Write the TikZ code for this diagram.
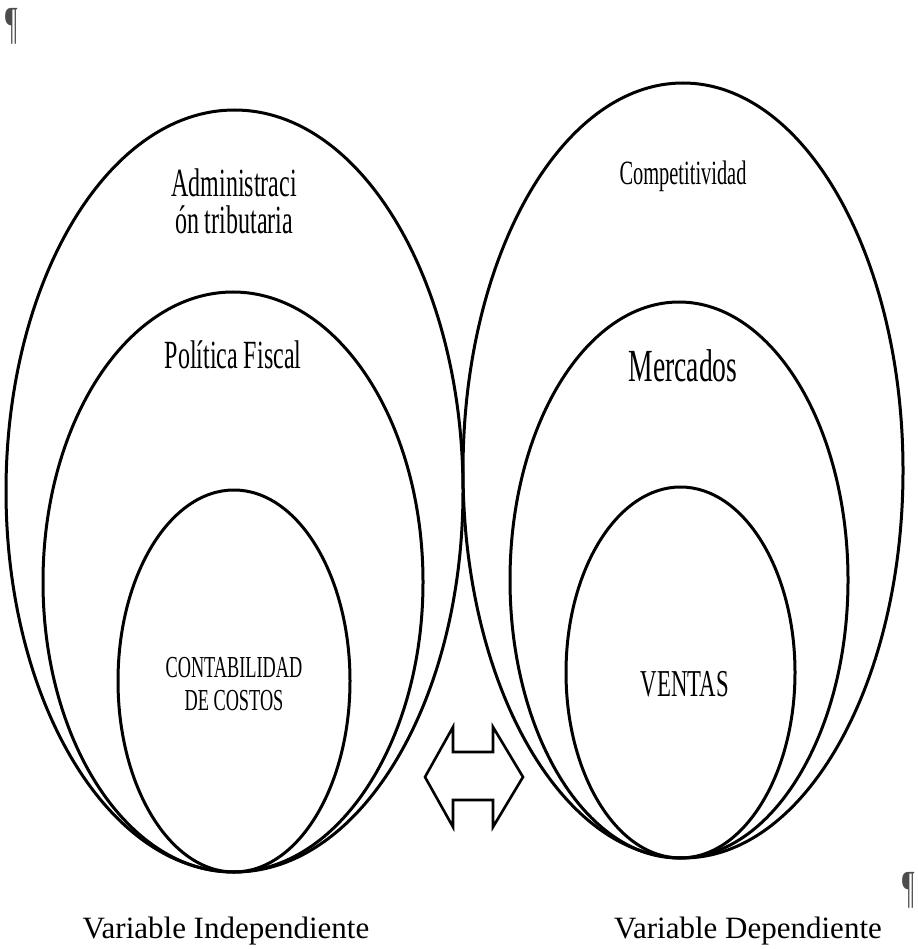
\documentclass[tikz,border=0pt]{standalone}
\usepackage{fontspec}
\setmainfont{Liberation Serif}
\newfontfamily\condfont[FakeStretch=0.6]{Liberation Serif}
\usepackage{tikz}
\tikzset{
  oval/.style={line width=3pt},
  lbl/.style={font=\condfont, anchor=base, inner sep=0pt},
  caption/.style={font=\fontsize{31}{34}\selectfont, anchor=base, inner sep=0pt},
  pilcrow/.style={font=\condfont\fontsize{46}{46}\selectfont, text=black!70, inner sep=0pt}
}

\begin{document}
\begin{tikzpicture}[x=1pt,y=-1pt]
\useasboundingbox (0,0) rectangle (917,949);
% variable independiente
\draw[oval] (234.5,491) ellipse [x radius=228.5, y radius=381];
\draw[oval] (233,582) ellipse [x radius=190, y radius=290];
\draw[oval] (234,681) ellipse [x radius=116, y radius=191];
\node[lbl, anchor=center, align=center, font=\condfont\fontsize{40}{37}\selectfont] (admin) at (234,201) {Administraci\\ón tributaria};
\node[lbl, font=\condfont\fontsize{40}{40}\selectfont] (fiscal) at (233,368) {Política Fiscal};
\node[lbl, anchor=center, align=center, font=\condfont\fontsize{30.5}{33}\selectfont] (costos) at (234,684) {CONTABILIDAD\\DE COSTOS};
% variable dependiente
\draw[oval] (683,470.5) ellipse [x radius=220, y radius=387.5];
\draw[oval] (679,580) ellipse [x radius=169, y radius=278];
\draw[oval] (680.5,672.5) ellipse [x radius=114.5, y radius=185.5];
\node[lbl, font=\condfont\fontsize{34}{34}\selectfont] (compet) at (683,185) {Competitividad};
\node[lbl, font=\condfont\fontsize{46}{46}\selectfont] (merc) at (683,381) {Mercados};
\node[lbl, font=\condfont\fontsize{38}{38}\selectfont] (ventas) at (685,696) {VENTAS};
% flecha doble
\draw[line width=2.6pt, line join=miter] (425,777) -- (453,727) -- (453,752) -- (493,752) -- (493,727)
  -- (523,777) -- (493,827) -- (493,800) -- (453,800) -- (453,827) -- cycle;
% rotulos
\node[caption] (indep) at (226,938) {Variable Independiente};
\node[caption] (dep) at (748,938) {Variable Dependiente};
\node[pilcrow, anchor=north] (p1) at (12,8) {¶};
\node[pilcrow, anchor=north] (p2) at (909,872) {¶};
\end{tikzpicture}
\end{document}
